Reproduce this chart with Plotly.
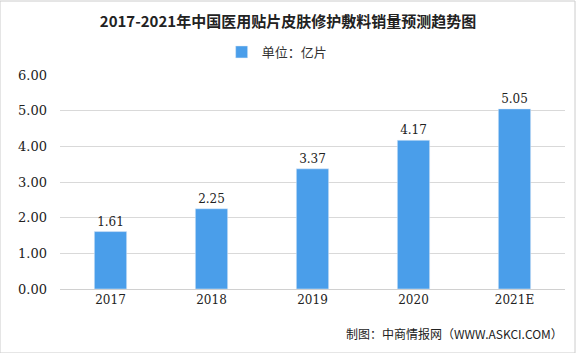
import plotly.graph_objects as go

years = ["2017", "2018", "2019", "2020", "2021E"]
values = [1.61, 2.25, 3.37, 4.17, 5.05]
y_ticks = [0, 1, 2, 3, 4, 5, 6]
y_tick_labels = ["0.00", "1.00", "2.00", "3.00", "4.00", "5.00", "6.00"]

bar_color = "#4A9EEA"
font_family = "Noto Sans CJK SC, DejaVu Sans, sans-serif"

fig = go.Figure()
fig.add_trace(go.Bar(
    x=years, y=values, name="单位：亿片",
    marker=dict(color=bar_color),
    text=[f"{v:.2f}" for v in values], textposition="outside",
    textfont=dict(size=12, color="#222222", family="DejaVu Serif, serif"),
    cliponaxis=False,
))

fig.update_layout(
    width=576, height=353,
    margin=dict(l=60, r=11, t=75, b=64),
    paper_bgcolor="white", plot_bgcolor="white",
    bargap=0.68,
    showlegend=True,
    legend=dict(orientation="h", x=0.43, xanchor="center", y=1 + 23/214, yanchor="middle",
                font=dict(size=13, color="#333333", family=font_family),
                itemwidth=30, bgcolor="rgba(0,0,0,0)"),
    title=dict(text="<b>2017-2021年中国医用贴片皮肤修护敷料销量预测趋势图</b>",
               x=0.5, xanchor="center", y=1 - 22/353, yanchor="middle",
               font=dict(size=15, color="#222222", family=font_family)),
    xaxis=dict(showgrid=False, showline=True, linecolor="#D0D0D0", ticks="",
               tickfont=dict(size=12, color="#222222", family="DejaVu Serif, serif")),
    yaxis=dict(range=[0, 6], tickvals=y_ticks, ticktext=y_tick_labels,
               showgrid=True, gridcolor="#D9D9D9", zeroline=False,
               ticks="", ticklabelstandoff=12,
               tickfont=dict(size=13, color="#222222", family="DejaVu Serif, serif")),
    shapes=[dict(type="rect", xref="paper", yref="paper", x0=-60/505, x1=1+10/505,
                 y0=-64/214, y1=1+74/214, line=dict(color="#CCCCCC", width=1))],
    annotations=[dict(text="制图：中商情报网（WWW.ASKCI.COM）", xref="paper", yref="paper",
                      x=1.0, xanchor="right", y=-44/214, yanchor="middle", showarrow=False,
                      font=dict(size=12, color="#222222", family=font_family))],
)

fig.write_html("out.html")
